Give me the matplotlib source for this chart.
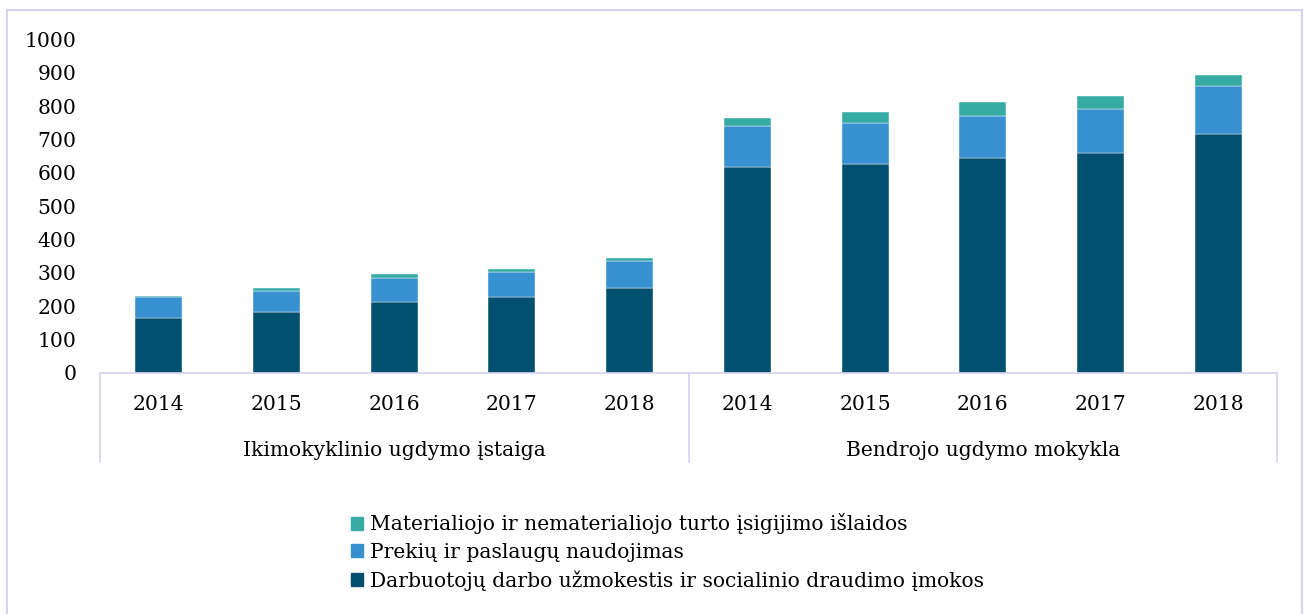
import numpy as np
import matplotlib
matplotlib.use("Agg")
from matplotlib import pyplot as plt
from matplotlib.patches import Patch, Rectangle

plt.rcParams['font.family'] = ['DejaVu Serif']

years = ['2014', '2015', '2016', '2017', '2018']
groups = ['Ikimokyklinio ugdymo įstaiga', 'Bendrojo ugdymo mokykla']

# values, left group then right group
salaries = [165, 183, 213, 229, 255, 616, 627, 644, 659, 717]
goods = [64, 64, 73, 75, 80, 123, 122, 126, 131, 143]
assets = [3, 8, 10, 9, 11, 25, 33, 43, 39, 32]

series_names = ['Darbuotojų darbo užmokestis ir socialinio draudimo įmokos',
                'Prekių ir paslaugų naudojimas',
                'Materialiojo ir nematerialiojo turto įsigijimo išlaidos']
colors = ['#02506F', '#3790CF', '#36ABA3']
frame_col = '#D6D3F0'
fs = 14.6

fig = plt.figure(figsize=(13.04, 6.14), dpi=100)
ax = fig.add_axes([100/1304, 1-373/614, 1177/1304, (373-39.3)/614])

x = np.arange(len(salaries))
s = np.array(salaries)
g = np.array(goods)
a = np.array(assets)
ax.bar(x, s, width=0.4, color=colors[0], edgecolor='white', linewidth=0.3)
ax.bar(x, g, bottom=s, width=0.4, color=colors[1], edgecolor='white', linewidth=0.3)
ax.bar(x, a, bottom=s+g, width=0.4, color=colors[2], edgecolor='white', linewidth=0.3)

ax.set_xlim(-0.5, 9.5)
ax.set_ylim(0, 1000)
ax.set_yticks(range(0, 1001, 100))
ax.tick_params(axis='y', length=0, labelsize=fs, pad=17)
ax.tick_params(axis='x', length=0, labelbottom=False)
for sp in ['top', 'right', 'left']:
    ax.spines[sp].set_visible(False)
ax.spines['bottom'].set_color(frame_col)
ax.spines['bottom'].set_linewidth(1.2)

# category axis: years and group boxes
trans = ax.get_xaxis_transform()
for i in x:
    ax.text(i, -0.093, years[i % 5], transform=trans, ha='center', va='center', fontsize=fs)
for k, name in enumerate(groups):
    ax.text(2 + 5*k, -0.231, name, transform=trans, ha='center', va='center', fontsize=fs)
for xv in [-0.5, 4.5, 9.5]:
    ax.plot([xv, xv], [0, -0.267], transform=trans, color=frame_col, lw=1.2, clip_on=False)

# outer frame
fig.patches.append(Rectangle((7/1304, -0.05), 1295/1304, 1.05 - 10/614, transform=fig.transFigure,
                             fill=False, edgecolor=frame_col, lw=1.5))

handles = [Patch(color=colors[2]), Patch(color=colors[1]), Patch(color=colors[0])]
labels = [series_names[2], series_names[1], series_names[0]]
fig.legend(handles, labels, loc='center left', bbox_to_anchor=(333/1304, 1-552/614),
           frameon=False, fontsize=fs, handlelength=0.6, handleheight=0.6,
           handletextpad=0.3, labelspacing=0.42)

fig.savefig('out.png', dpi=100)
